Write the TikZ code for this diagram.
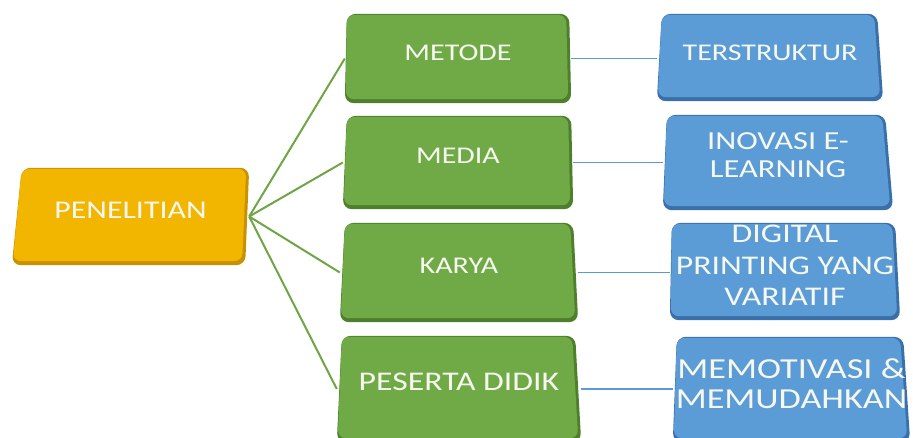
\documentclass[tikz,border=0pt]{standalone}
\usepackage{fontspec}
\setmainfont{Carlito}[FakeStretch=1.25]
\definecolor{yface}{RGB}{243,182,0}
\definecolor{yrim}{RGB}{200,145,0}
\definecolor{gface}{RGB}{112,170,70}
\definecolor{grim}{RGB}{78,128,44}
\definecolor{bface}{RGB}{91,156,214}
\definecolor{brim}{RGB}{58,112,170}
\definecolor{gline}{RGB}{112,165,70}
\definecolor{bline}{RGB}{91,155,213}
\definecolor{txtc}{RGB}{246,248,240}
\newcommand\bevelbox[7]{%
  \fill[#7, rounded corners=9pt] ([xshift=#2pt]#1.north west) -- ([xshift=#3pt]#1.north east) -- ([xshift=#4pt]#1.south east) -- ([xshift=#5pt]#1.south west) -- cycle;
  \fill[#6, rounded corners=8pt] ([xshift=#2pt, yshift=-1pt]#1.north west) -- ([xshift=#3pt-3pt, yshift=-1pt]#1.north east) -- ([xshift=#4pt-3pt, yshift=4pt]#1.south east) -- ([xshift=#5pt+1pt, yshift=4pt]#1.south west) -- cycle;
}
\tikzset{
  boxarea/.style={rectangle, inner sep=0pt, minimum width=#1},
  txt/.style={text=txtc, align=center, inner sep=0pt},
  gconn/.style={draw=gline, line width=2pt},
  bconn/.style={draw=bline, line width=1.6pt},
}
\begin{document}
\begin{tikzpicture}[x=1pt, y=-1pt]
\useasboundingbox (0,0) rectangle (913,438);
% box areas
\node[boxarea=237pt, minimum height=97pt] (pen) at (130.5,216.5) {};
\node[boxarea=226pt, minimum height=89pt] (metode) at (458,58.5) {};
\node[boxarea=230pt, minimum height=93pt] (media) at (458,162.5) {};
\node[boxarea=238pt, minimum height=99pt] (karya) at (459,272.5) {};
\node[boxarea=244pt, minimum height=106pt] (peserta) at (459,389) {};
\node[boxarea=226pt, minimum height=87pt] (terstruktur) at (770,57.5) {};
\node[boxarea=230pt, minimum height=95pt] (inovasi) at (778,162.5) {};
\node[boxarea=230pt, minimum height=97pt] (digital) at (785,271.5) {};
\node[boxarea=237pt, minimum height=105pt] (memotivasi) at (791.5,389.5) {};
% connectors
\draw[gconn] (pen.east) -- (metode.west);
\draw[gconn] (pen.east) -- (media.west);
\draw[gconn] (pen.east) -- (karya.west);
\draw[gconn] (pen.east) -- (peserta.west);
\draw[bconn] (metode.east) -- (metode.east -| terstruktur.west);
\draw[bconn] (media.east) -- (media.east -| inovasi.west);
\draw[bconn] (karya.east) -- (karya.east -| digital.west);
\draw[bconn] (peserta.east) -- (peserta.east -| memotivasi.west);
% shapes
\bevelbox{pen}{10}{0}{-4}{0}{yface}{yrim}
\bevelbox{metode}{2}{-2}{0}{0}{gface}{grim}
\bevelbox{media}{4}{-2}{0}{0}{gface}{grim}
\bevelbox{karya}{5}{-5}{0}{0}{gface}{grim}
\bevelbox{peserta}{5}{-6}{0}{0}{gface}{grim}
\bevelbox{terstruktur}{5}{-6}{0}{0}{bface}{brim}
\bevelbox{inovasi}{4}{-8}{0}{0}{bface}{brim}
\bevelbox{digital}{2}{-5}{0}{0}{bface}{brim}
\bevelbox{memotivasi}{4}{-7}{0}{0}{bface}{brim}
% texts
\node[txt, font=\fontsize{25.5}{28}\selectfont] (pen-t) at ([yshift=6pt]pen.center) {PENELITIAN};
\node[txt, font=\fontsize{24}{28}\selectfont] (metode-t) at ([yshift=6pt]metode.center) {METODE};
\node[txt, font=\fontsize{24}{28}\selectfont] (media-t) at ([yshift=7pt]media.center) {MEDIA};
\node[txt, font=\fontsize{24}{28}\selectfont] (karya-t) at ([yshift=7pt]karya.center) {KARYA};
\node[txt, font=\fontsize{27}{30}\selectfont] (peserta-t) at ([yshift=7pt]peserta.center) {PESERTA DIDIK};
\node[txt, font=\fontsize{24}{28}\selectfont] (terstruktur-t) at ([yshift=5pt]terstruktur.center) {TERSTRUKTUR};
\node[txt, font=\fontsize{26}{28}\selectfont] (inovasi-t) at ([yshift=7pt]inovasi.center) {INOVASI E-\\LEARNING};
\node[txt, font=\fontsize{27}{31.5}\selectfont] (digital-t) at ([yshift=6pt]digital.center) {DIGITAL\\PRINTING YANG\\VARIATIF};
\node[txt, font=\fontsize{29}{30}\selectfont] (memotivasi-t) at ([yshift=6pt]memotivasi.center) {MEMOTIVASI \&\\MEMUDAHKAN};
\end{tikzpicture}
\end{document}
